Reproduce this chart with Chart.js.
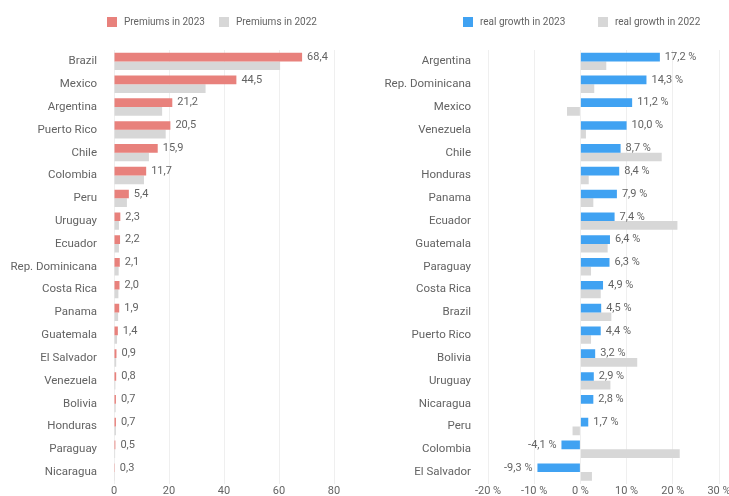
<!DOCTYPE html>
<html>
<head>
<meta charset="utf-8">
<title>Insurance premiums and real growth</title>
<script src="https://cdn.jsdelivr.net/npm/chart.js@4/dist/chart.umd.min.js"></script>
<style>
  body { margin: 0; background: #fff; overflow: hidden; }
  #wrap { position: relative; width: 729px; height: 496px; overflow: hidden; }
  canvas { position: absolute; top: 0; }
</style>
</head>
<body>
<div id="wrap">
  <canvas id="premiumsChart" width="360" height="496" style="left:0"></canvas>
  <canvas id="growthChart" width="369" height="496" style="left:360px"></canvas>
</div>
<script>
// premiums, USD bn
const premiumCountries = ['Brazil', 'Mexico', 'Argentina', 'Puerto Rico', 'Chile', 'Colombia', 'Peru',
  'Uruguay', 'Ecuador', 'Rep. Dominicana', 'Costa Rica', 'Panama', 'Guatemala', 'El Salvador',
  'Venezuela', 'Bolivia', 'Honduras', 'Paraguay', 'Nicaragua'];
const premiums2023 = [68.4, 44.5, 21.2, 20.5, 15.9, 11.7, 5.4, 2.3, 2.2, 2.1, 2.0, 1.9, 1.4, 0.9, 0.8, 0.7, 0.7, 0.5, 0.3];
const premiums2022 = [60.4, 33.3, 17.5, 18.8, 12.7, 10.9, 4.7, 1.8, 1.8, 1.7, 1.6, 1.5, 1.1, 0.8, 0.5, 0.6, 0.7, 0.4, 0.3];
const premiumTicks = [0, 20, 40, 60, 80];

// real growth, %
const growthCountries = ['Argentina', 'Rep. Dominicana', 'Mexico', 'Venezuela', 'Chile', 'Honduras', 'Panama',
  'Ecuador', 'Guatemala', 'Paraguay', 'Costa Rica', 'Brazil', 'Puerto Rico', 'Bolivia', 'Uruguay',
  'Nicaragua', 'Peru', 'Colombia', 'El Salvador'];
const growth2023 = [17.2, 14.3, 11.2, 10.0, 8.7, 8.4, 7.9, 7.4, 6.4, 6.3, 4.9, 4.5, 4.4, 3.2, 2.9, 2.8, 1.7, -4.1, -9.3];
const growth2022 = [5.6, 3.0, -2.9, 1.2, 17.6, 1.8, 2.8, 21.0, 5.9, 2.3, 4.4, 6.7, 2.3, 12.3, 6.5, 0, -1.7, 21.5, 2.5];
const growthTicks = [-20, -10, 0, 10, 20, 30];

const RED = '#e8817c';
const BLUE = '#40a2f2';
const GREY = '#d7d7d7';
const TEXT = '#636363';
const FONT = 'Roboto';

// numbers with comma decimals next to the 2023 bars
const valueLabels = {
  id: 'valueLabels',
  afterDatasetsDraw(chart, args, opts) {
    const ctx = chart.ctx;
    const values = chart.data.datasets[0].data;
    ctx.save();
    ctx.font = '11px ' + FONT;
    ctx.fillStyle = TEXT;
    ctx.textBaseline = 'middle';
    chart.getDatasetMeta(0).data.forEach((bar, i) => {
      const v = values[i];
      const text = v.toFixed(1).replace('.', ',') + opts.suffix;
      if (v >= 0) {
        ctx.textAlign = 'left';
        ctx.fillText(text, bar.x + 5, bar.y);
      } else {
        ctx.textAlign = 'right';
        ctx.fillText(text, bar.x - 5, bar.y);
      }
    });
    ctx.restore();
  }
};

// legend row with fixed box/text positions
const legendRow = {
  id: 'legendRow',
  afterDraw(chart, args, opts) {
    const ctx = chart.ctx;
    ctx.save();
    ctx.font = '10px ' + FONT;
    ctx.textBaseline = 'middle';
    ctx.textAlign = 'left';
    chart.data.datasets.forEach((ds, i) => {
      const x = opts.x[i];
      ctx.fillStyle = ds.backgroundColor;
      ctx.fillRect(x, 17, 10, 10);
      ctx.fillStyle = TEXT;
      ctx.fillText(ds.label, x + 17, 22.5);
    });
    ctx.restore();
  }
};

function barOptions(yWidth, rightPad, ticks, tickText, suffix, legendX) {
  return {
    indexAxis: 'y',
    responsive: false,
    animation: false,
    layout: { padding: { top: 50, right: rightPad, left: 0, bottom: 0 } },
    plugins: {
      legend: { display: false },
      tooltip: { enabled: false },
      valueLabels: { suffix: suffix },
      legendRow: { x: legendX }
    },
    scales: {
      x: {
        min: ticks[0],
        max: ticks[ticks.length - 1],
        afterBuildTicks: scale => { scale.ticks = ticks.map(v => ({ value: v })); },
        afterFit: scale => {
          scale.height = 12.5;
          scale.paddingLeft = 0;
          scale.paddingRight = 0;
        },
        border: { display: false },
        grid: { color: '#efefef', drawTicks: false },
        ticks: {
          padding: 1,
          maxRotation: 0,
          color: TEXT,
          font: { family: FONT, size: 11 },
          callback: v => tickText(v)
        }
      },
      y: {
        // fixed label column; drop the label overhang padding so bars fill the height
        afterFit: scale => {
          scale.width = yWidth;
          scale.paddingTop = 0;
          scale.paddingBottom = 0;
        },
        border: { display: false },
        grid: { display: false, drawTicks: false },
        ticks: { padding: 17, color: TEXT, font: { family: FONT, size: 11.5 } }
      }
    }
  };
}

new Chart(document.getElementById('premiumsChart'), {
  type: 'bar',
  data: {
    labels: premiumCountries,
    datasets: [
      { label: 'Premiums in 2023', data: premiums2023, backgroundColor: RED,
        barPercentage: 1, categoryPercentage: 0.76 },
      { label: 'Premiums in 2022', data: premiums2022, backgroundColor: GREY,
        barPercentage: 1, categoryPercentage: 0.76 }
    ]
  },
  options: barOptions(114, 26, premiumTicks, v => String(v), '', [107, 219]),
  plugins: [valueLabels, legendRow]
});

new Chart(document.getElementById('growthChart'), {
  type: 'bar',
  data: {
    labels: growthCountries,
    datasets: [
      { label: 'real growth in 2023', data: growth2023, backgroundColor: BLUE,
        barPercentage: 1, categoryPercentage: 0.76 },
      { label: 'real growth in 2022', data: growth2022, backgroundColor: GREY,
        barPercentage: 1, categoryPercentage: 0.76 }
    ]
  },
  options: barOptions(128, 10, growthTicks, v => v + ' %', ' %', [103, 238]),
  plugins: [valueLabels, legendRow]
});
</script>
</body>
</html>
